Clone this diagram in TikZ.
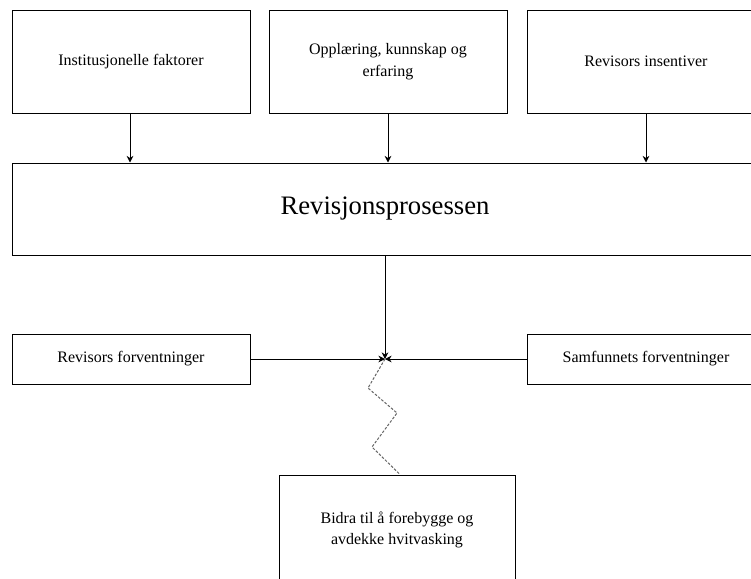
\documentclass[tikz,border=0pt]{standalone}
\usepackage{fontspec}
\setmainfont{Liberation Serif}
\usetikzlibrary{arrows.meta}
\begin{document}
\begin{tikzpicture}[x=0.75pt,y=-0.75pt,
  box/.style={draw=black,line width=0.75pt,fill=white,align=center,inner sep=0pt,
    font=\fontsize{12}{16.5}\selectfont},
  arr/.style={line width=0.75pt,-{Stealth[length=5pt,width=5pt]}},
  zig/.style={draw=gray!80!black,line width=0.75pt,dash pattern=on 2pt off 1.2pt}]
\useasboundingbox (0,0) rectangle (751,579);
\clip (0,0) rectangle (751,579);
\fill[white] (0,0) rectangle (751,579);
\node[box,minimum width=178.5pt,minimum height=77.25pt] (b1) at (131,61.5) {Institusjonelle faktorer};
\node[box,minimum width=178.5pt,minimum height=77.25pt] (b2) at (388,61.5) {Opplæring, kunnskap og\\erfaring};
\node[box,minimum width=178.5pt,minimum height=77.25pt] (b3) at (646,61.5) {Revisors insentiver};
\node[box,minimum width=559.5pt,minimum height=69pt,font=\fontsize{20}{24}\selectfont] (big) at (385,209) {Revisjonsprosessen};
\node[box,minimum width=178.5pt,minimum height=37.5pt] (l) at (131,359) {Revisors forventninger};
\node[box,minimum width=178.5pt,minimum height=37.5pt] (r) at (646,359) {Samfunnets forventninger};
\node[box,minimum width=177pt,minimum height=82.5pt,font=\fontsize{12}{16}\selectfont] (bot) at (397,530) {Bidra til å forebygge og\\avdekke hvitvasking};
\coordinate (j) at (385,359);
\draw[arr] (b1.south -| 130,0) -- (big.north -| 130,0);
\draw[arr] (b2.south) -- (big.north -| b2.south);
\draw[arr] (b3.south) -- (big.north -| b3.south);
\draw[arr] (big.south) -- (j);
\draw[arr] (l.east) -- (j);
\draw[arr] (r.west) -- (j);
\coordinate (z1) at (368,388);
\coordinate (z2) at (397,413);
\coordinate (z3) at (372,447);
\draw[zig] (j) -- (z1) -- (z2) -- (z3) -- (bot.north -| 400,0);
\end{tikzpicture}
\end{document}
